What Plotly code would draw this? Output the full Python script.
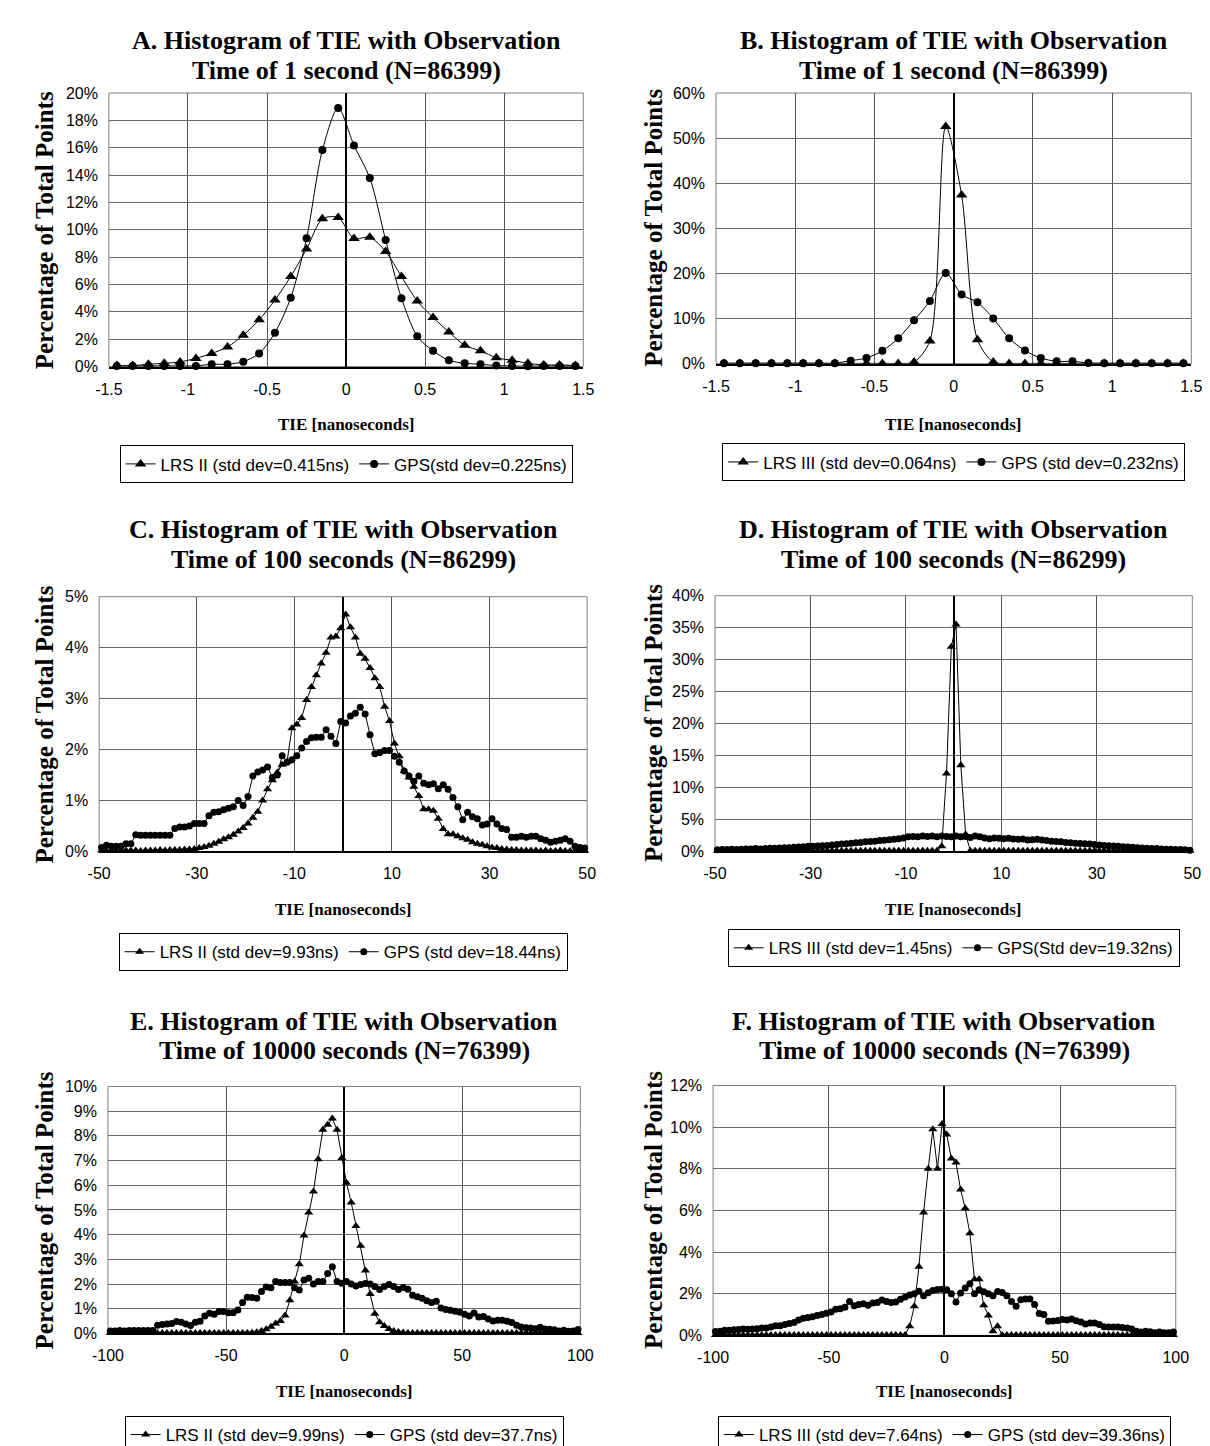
import plotly.graph_objects as go

W, H = 1210, 1446

# ---------------- data ----------------
AB_TIE = [-1.45, -1.35, -1.25, -1.15, -1.05, -0.95, -0.85, -0.75, -0.65, -0.55,
          -0.45, -0.35, -0.25, -0.15, -0.05, 0.05, 0.15, 0.25, 0.35, 0.45,
          0.55, 0.65, 0.75, 0.85, 0.95, 1.05, 1.15, 1.25, 1.35, 1.45]
CD_TIE = [b + 0.5 for b in range(-50, 50)]        # 1 ns bins
EF_TIE = [b for b in range(-99, 100, 2)]          # 2 ns bins

A_LRS = [0.07, 0.07, 0.17, 0.24, 0.34, 0.6, 0.96, 1.44, 2.29, 3.42,
         4.86, 6.59, 8.59, 10.8, 10.9, 9.36, 9.46, 8.42, 6.59, 4.79,
         3.59, 2.53, 1.56, 1.15, 0.65, 0.46, 0.24, 0.12, 0.12, 0.07]
A_GPS = [0.05, 0.05, 0.05, 0.05, 0.05, 0.05, 0.17, 0.17, 0.36, 0.96,
         2.48, 5.03, 9.38, 15.83, 18.91, 16.17, 13.79, 9.26, 5.0, 2.21,
         1.15, 0.46, 0.24, 0.17, 0.07, 0.05, 0.02, 0.05, 0.05, 0.05]

B_LRS = [0.05, 0.05, 0.05, 0.05, 0.05, 0.05, 0.05, 0.05, 0.05, 0.05,
         0.05, 0.05, 0.36, 5.0, 52.6, 37.4, 5.3, 0.36, 0.05, 0.05,
         0.05, 0.05, 0.05, 0.05, 0.05, 0.05, 0.05, 0.05, 0.05, 0.05]
B_GPS = [0.1, 0.1, 0.1, 0.1, 0.1, 0.1, 0.1, 0.1, 0.66, 1.24,
         2.85, 5.6, 9.6, 13.9, 20.1, 15.3, 13.6, 10.0, 5.6, 2.9,
         1.24, 0.5, 0.5, 0.15, 0.1, 0.1, 0.1, 0.1, 0.1, 0.1]

C_LRS = [0.02, 0.01, 0.02, 0.02, 0.01, 0.02, 0.02, 0.02, 0.01, 0.02,
         0.02, 0.02, 0.03, 0.02, 0.03, 0.03, 0.03, 0.04, 0.04,
         0.05, 0.07, 0.09, 0.11, 0.15, 0.19, 0.24, 0.28, 0.33, 0.39,
         0.46, 0.55, 0.66, 0.78, 1.0, 1.22, 1.4, 1.55, 1.7, 1.76,
         2.42, 2.49, 2.62, 2.97, 3.23, 3.46, 3.69, 3.9, 4.2, 4.22,
         4.38, 4.65, 4.4, 4.2, 3.88, 3.78, 3.6, 3.4, 3.23, 2.84,
         2.56, 2.12, 1.87, 1.58, 1.45, 1.27, 1.09, 0.83, 0.83, 0.8,
         0.64, 0.44, 0.34, 0.34, 0.3, 0.26, 0.23, 0.18, 0.15, 0.13,
         0.1, 0.08, 0.07, 0.05, 0.04, 0.03, 0.03, 0.02, 0.02, 0.02,
         0.02, 0.01, 0.02, 0.01, 0.01, 0.02, 0.01, 0.01, 0.01, 0.01, 0.01]
C_GPS = [0.08, 0.12, 0.1, 0.1, 0.1, 0.15, 0.15, 0.33, 0.32, 0.32,
         0.32, 0.32, 0.32, 0.32, 0.32, 0.45, 0.48, 0.48, 0.5, 0.55,
         0.55, 0.55, 0.7, 0.77, 0.78, 0.82, 0.85, 0.88, 1.0, 0.9,
         1.08, 1.48, 1.56, 1.6, 1.66, 1.45, 1.5, 1.88, 1.75, 1.8,
         1.88, 2.03, 2.16, 2.23, 2.24, 2.24, 2.39, 2.26, 2.12, 2.55,
         2.52, 2.66, 2.71, 2.83, 2.7, 2.29, 1.92, 1.94, 1.98, 1.98,
         1.87, 1.75, 1.58, 1.48, 1.38, 1.48, 1.34, 1.31, 1.33, 1.23,
         1.31, 1.22, 1.06, 0.88, 0.62, 0.77, 0.68, 0.64, 0.52, 0.54,
         0.64, 0.54, 0.45, 0.43, 0.28, 0.28, 0.3, 0.28, 0.3, 0.3,
         0.25, 0.22, 0.18, 0.2, 0.22, 0.25, 0.2, 0.1, 0.08, 0.07]

D_LRS = ([0.1] * 46
         + [0.1, 0.8, 12.2, 32.0, 35.5, 13.5, 2.7, 0.1]
         + [0.1] * 46)
D_GPS = [0.25, 0.3, 0.3, 0.35, 0.3, 0.35, 0.4, 0.4, 0.45, 0.4,
         0.45, 0.5, 0.5, 0.55, 0.6, 0.6, 0.65, 0.7, 0.75, 0.8,
         0.8, 0.85, 0.9, 0.95, 1.0, 1.1, 1.15, 1.2, 1.3, 1.35,
         1.4, 1.5, 1.55, 1.6, 1.7, 1.75, 1.85, 1.9, 2.0, 2.1,
         2.3, 2.35, 2.3, 2.4, 2.35, 2.4, 2.3, 2.4, 2.35, 2.3,
         2.4, 2.3, 2.35, 2.2, 2.4, 2.3, 2.1, 2.0, 2.1, 2.05,
         2.0, 2.05, 1.95, 1.9, 1.95, 1.8, 1.85, 1.9, 1.8, 1.7,
         1.6, 1.55, 1.5, 1.4, 1.35, 1.3, 1.25, 1.2, 1.15, 1.1,
         1.0, 0.95, 0.9, 0.85, 0.8, 0.75, 0.7, 0.65, 0.6, 0.55,
         0.5, 0.45, 0.45, 0.4, 0.35, 0.35, 0.3, 0.3, 0.25, 0.2]

E_LRS = ([0.02] * 30
         + [0.03, 0.05, 0.1, 0.17, 0.27, 0.4, 0.5, 0.72, 1.34, 2.1,
            2.8, 3.97, 4.9, 5.75, 7.05, 8.25, 8.45, 8.7, 8.25, 7.1,
            6.1, 5.3, 4.35, 3.55, 2.55, 1.6, 0.8, 0.45, 0.3, 0.18,
            0.1, 0.06, 0.04]
         + [0.02] * 37)
E_GPS = [0.1, 0.1, 0.12, 0.1, 0.12, 0.12, 0.12, 0.12, 0.12,
         0.12, 0.33, 0.36, 0.38, 0.4, 0.48, 0.45, 0.38, 0.32, 0.45,
         0.49, 0.7, 0.82, 0.78, 0.89, 0.89, 0.84, 0.84, 0.95, 1.25,
         1.46, 1.45, 1.42, 1.7, 1.88, 1.85, 2.1, 2.06, 2.06, 2.06,
         1.85, 1.76, 2.16, 2.23, 2.0, 2.1, 2.1, 2.43, 2.7, 2.1,
         2.03,
         2.1, 2.0, 1.92, 1.98, 2.02, 2.0, 1.9, 1.78, 1.9, 1.98,
         1.9, 1.78, 1.86, 1.79, 1.55, 1.48, 1.42, 1.32, 1.25, 1.3,
         1.03, 0.97, 0.94, 0.9, 0.86, 0.78, 0.7, 0.83, 0.66, 0.68,
         0.58, 0.5, 0.53, 0.53, 0.49, 0.44, 0.33, 0.26, 0.23, 0.22,
         0.19, 0.25, 0.18, 0.17, 0.15, 0.1, 0.13, 0.09, 0.1, 0.16]

F_LRS = ([0.02] * 42
         + [0.44, 1.4, 3.3, 5.9, 8.0, 9.9, 8.0, 10.15, 9.65, 8.5,
            8.3, 7.0, 6.1, 4.9, 2.7, 2.7, 1.45, 0.95, 0.2, 0.44]
         + [0.02] * 38)
F_GPS = [0.18, 0.2, 0.25, 0.25, 0.27, 0.28, 0.3, 0.29, 0.3, 0.32,
         0.36, 0.36, 0.4, 0.46, 0.46, 0.52, 0.57, 0.62, 0.74, 0.82,
         0.86, 0.9, 0.95, 1.0, 1.06, 1.12, 1.25, 1.28, 1.35, 1.63,
         1.42, 1.48, 1.52, 1.45, 1.56, 1.58, 1.7, 1.63, 1.58, 1.6,
         1.74, 1.84, 1.94, 2.0, 2.12, 1.9, 2.05, 2.15, 2.2, 2.22,
         2.19, 2.0, 1.6, 2.03, 2.27, 2.48, 2.0, 2.19, 2.1, 2.0,
         1.9, 2.11, 2.06, 1.9, 1.63, 1.4, 1.71, 1.75, 1.75, 1.48,
         1.05, 1.0, 0.68, 0.69, 0.71, 0.76, 0.74, 0.79, 0.7, 0.64,
         0.55, 0.6, 0.6, 0.52, 0.42, 0.4, 0.4, 0.4, 0.38, 0.36,
         0.3, 0.2, 0.16, 0.2, 0.17, 0.13, 0.16, 0.13, 0.13, 0.16]

AB_XTICKS = [-1.5, -1, -0.5, 0, 0.5, 1, 1.5]
AB_XTEXT = ["-1.5", "-1", "-0.5", "0", "0.5", "1", "1.5"]
CD_XTICKS = [-50, -30, -10, 10, 30, 50]
CD_XTEXT = ["-50", "-30", "-10", "10", "30", "50"]
EF_XTICKS = [-100, -50, 0, 50, 100]
EF_XTEXT = ["-100", "-50", "0", "50", "100"]

TITLE_1 = ["A. Histogram of TIE with Observation", "B. Histogram of TIE with Observation",
           "C. Histogram of TIE with Observation", "D. Histogram of TIE with Observation",
           "E. Histogram of TIE with Observation", "F. Histogram of TIE with Observation"]
TITLE_2 = ["Time of 1 second (N=86399)", "Time of 1 second (N=86399)",
           "Time of 100 seconds (N=86299)", "Time of 100 seconds (N=86299)",
           "Time of 10000 seconds (N=76399)", "Time of 10000 seconds (N=76399)"]
LRS_NAMES = ["LRS II (std dev=0.415ns)", "LRS III (std dev=0.064ns)",
             "LRS II (std dev=9.93ns)", "LRS III (std dev=1.45ns)",
             "LRS II (std dev=9.99ns)", "LRS III (std dev=7.64ns)"]
GPS_NAMES = ["GPS(std dev=0.225ns)", "GPS (std dev=0.232ns)",
             "GPS (std dev=18.44ns)", "GPS(Std dev=19.32ns)",
             "GPS (std dev=37.7ns)", "GPS (std dev=39.36ns)"]
Y_TITLE = "Percentage of Total Points"
X_TITLE = "TIE [nanoseconds]"

# ---------------- layout (pixels) ----------------
panels = [
    dict(x=AB_TIE, lrs=A_LRS, gps=A_GPS, box=(87, 573, 78, 355), xr=(-1.5, 1.5),
         xt=(AB_XTICKS, AB_XTEXT), ymax=20, dy=2, shape="spline", ms=(10, 8),
         ty=(25, 55), xty=414, legy=454, ytx=21),
    dict(x=AB_TIE, lrs=B_LRS, gps=B_GPS, box=(709, 1196, 78, 352), xr=(-1.5, 1.5),
         xt=(AB_XTICKS, AB_XTEXT), ymax=60, dy=10, shape="spline", ms=(10, 8),
         ty=(25, 55), xty=414, legy=452, ytx=645),
    dict(x=CD_TIE, lrs=C_LRS, gps=C_GPS, box=(77, 577, 588, 846), xr=(-50, 50),
         xt=(CD_XTICKS, CD_XTEXT), ymax=5, dy=1, shape="linear", ms=(8, 7),
         ty=(520, 550), xty=905, legy=948, ytx=21),
    dict(x=CD_TIE, lrs=D_LRS, gps=D_GPS, box=(708, 1197, 587, 846), xr=(-50, 50),
         xt=(CD_XTICKS, CD_XTEXT), ymax=40, dy=5, shape="linear", ms=(8, 7),
         ty=(520, 550), xty=905, legy=944, ytx=645),
    dict(x=EF_TIE, lrs=E_LRS, gps=E_GPS, box=(86, 570, 1084, 1334), xr=(-100, 100),
         xt=(EF_XTICKS, EF_XTEXT), ymax=10, dy=1, shape="linear", ms=(8, 7),
         ty=(1018, 1048), xty=1393, legy=1437, ytx=21),
    dict(x=EF_TIE, lrs=F_LRS, gps=F_GPS, box=(706, 1180, 1083, 1336), xr=(-100, 100),
         xt=(EF_XTICKS, EF_XTEXT), ymax=12, dy=2, shape="linear", ms=(8, 7),
         ty=(1018, 1048), xty=1393, legy=1437, ytx=645),
]

SANS = "Liberation Sans, Arial, sans-serif"
SERIF = "Liberation Serif, Times New Roman, serif"


def px(x):
    return x / W


def py(y):
    return 1 - y / H


fig = go.Figure()
layout = dict(width=W, height=H, margin=dict(l=0, r=0, t=0, b=0),
              paper_bgcolor="white", plot_bgcolor="white", showlegend=True)
annotations = []
shapes = []

for i, p in enumerate(panels, start=1):
    sfx = "" if i == 1 else str(i)
    x0, x1, y0, y1 = p["box"]
    xc = (x0 + x1) / 2
    leg = "legend" if i == 1 else f"legend{i}"
    line = dict(color="black", width=1, shape=p["shape"], smoothing=0.8)
    fig.add_trace(go.Scatter(
        x=p["x"], y=p["lrs"], name=LRS_NAMES[i - 1], mode="lines+markers",
        line=line, marker=dict(symbol="triangle-up", size=p["ms"][0], color="black"),
        xaxis=f"x{sfx}", yaxis=f"y{sfx}", legend=leg, cliponaxis=False))
    fig.add_trace(go.Scatter(
        x=p["x"], y=p["gps"], name=GPS_NAMES[i - 1], mode="lines+markers",
        line=line, marker=dict(symbol="circle", size=p["ms"][1], color="black"),
        xaxis=f"x{sfx}", yaxis=f"y{sfx}", legend=leg, cliponaxis=False))

    layout[f"xaxis{sfx}"] = dict(
        domain=[px(x0), px(x1)], anchor=f"y{sfx}", range=list(p["xr"]),
        tickmode="array", tickvals=p["xt"][0], ticktext=p["xt"][1],
        showgrid=True, gridcolor="#555555", gridwidth=1,
        zeroline=True, zerolinecolor="black", zerolinewidth=1.5,
        showline=True, linecolor="black", linewidth=1.5, mirror=False,
        ticks="", ticklabelstandoff=7,
        tickfont=dict(family=SANS, size=16, color="black"))
    layout[f"yaxis{sfx}"] = dict(
        domain=[py(y1), py(y0)], anchor=f"x{sfx}", range=[0, p["ymax"]],
        tick0=0, dtick=p["dy"], ticksuffix="%",
        showgrid=True, gridcolor="#6a6a6a", gridwidth=1,
        zeroline=False, showline=False, ticks="", ticklabelstandoff=10,
        tickfont=dict(family=SANS, size=16, color="black"))

    shapes.append(dict(type="rect", xref=f"x{sfx} domain", yref=f"y{sfx} domain",
                       x0=0, x1=1, y0=0, y1=1, line=dict(color="#808080", width=1),
                       fillcolor="rgba(0,0,0,0)", layer="below"))

    for k, t in enumerate((TITLE_1[i - 1], TITLE_2[i - 1])):
        annotations.append(dict(
            text=t, x=px(xc), y=py(p["ty"][k]), xref="paper", yref="paper",
            xanchor="center", yanchor="middle", showarrow=False,
            font=dict(family=SERIF, size=26, color="black", weight="bold")))
    annotations.append(dict(
        text=X_TITLE, x=px(xc), y=py(p["xty"]), xref="paper", yref="paper",
        xanchor="center", yanchor="middle", showarrow=False,
        font=dict(family=SERIF, size=17, color="black", weight="bold")))
    annotations.append(dict(
        text=Y_TITLE, x=px(p["ytx"]), y=py((y0 + y1) / 2), xref="paper", yref="paper",
        xanchor="center", yanchor="middle", showarrow=False, textangle=-90,
        font=dict(family=SERIF, size=25, color="black", weight="bold")))

    layout[leg] = dict(
        x=px(xc), y=py(p["legy"]), xanchor="center", yanchor="middle",
        orientation="h", bgcolor="white", bordercolor="black", borderwidth=1,
        font=dict(family=SANS, size=17, color="black"), itemwidth=30,
        tracegroupgap=0)

layout["annotations"] = annotations
layout["shapes"] = shapes
fig.update_layout(**layout)
fig.write_html("out.html")
